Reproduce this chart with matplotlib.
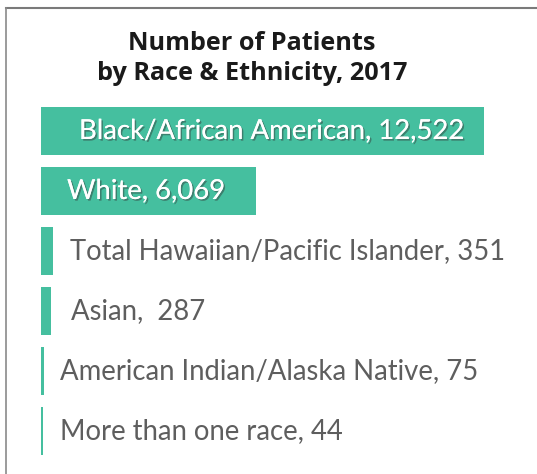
import matplotlib.pyplot as plt
import matplotlib.patheffects as pe
from matplotlib.lines import Line2D

##data
races = ['Black/African American', 'White', 'Total Hawaiian/Pacific Islander',
         'Asian', 'American Indian/Alaska Native', 'More than one race']
patients = [12522, 6069, 351, 287, 75, 44]
labels = ['Black/African American, 12,522', 'White, 6,069',
          'Total Hawaiian/Pacific Islander, 351', 'Asian,  287',
          'American Indian/Alaska Native, 75', 'More than one race, 44']

W, H = 537, 474
teal = '#45bf9f'

fig = plt.figure(figsize=(W/100, H/100), dpi=100)
fig.patch.set_facecolor('white')

##gray frame on top and left
fig.add_artist(Line2D([6/W, 1], [1-8/H, 1-8/H], color='#7a7a7a', lw=1.5))
fig.add_artist(Line2D([6/W, 6/W], [0, 1-8/H], color='#8a8a8a', lw=1.2))

fig.text(252/W, 1-44/H, 'Number of Patients', ha='center', va='center',
         fontsize=18.2, fontweight='bold', family='Open Sans', color='#1a1a1a')
fig.text(252/W, 1-73/H, 'by Race & Ethnicity, 2017', ha='center', va='center',
         fontsize=18.2, fontweight='bold', family='Open Sans', color='#1a1a1a')

##axes: left edge at bar start, 60px per row
ax = fig.add_axes([41/W, 1-461/H, (W-41)/W, 360/H])
ax.set_xlim(0, 12522*(W-41)/443)
ax.set_ylim(5.5, -0.5)
ax.axis('off')

ax.barh(range(len(patients)), patients, height=0.8, color=teal)

offsets = [38, 26, 29, 30, 19, 19]  ##text start in px from bar start
for i, (lab, off) in enumerate(zip(labels, offsets)):
    inside = i < 2
    t = ax.annotate(lab, xy=(0, i), xytext=(off*0.72, 0), textcoords='offset points',
                    ha='left', va='center', fontsize=19.8, family='Lato',
                    color='white' if inside else '#5e5e5e')
    if inside:
        t.set_path_effects([pe.withSimplePatchShadow(offset=(1.2, -1.2),
                            shadow_rgbFace='#333333', alpha=0.45), pe.Normal()])

fig.savefig('out.png', dpi=100)
